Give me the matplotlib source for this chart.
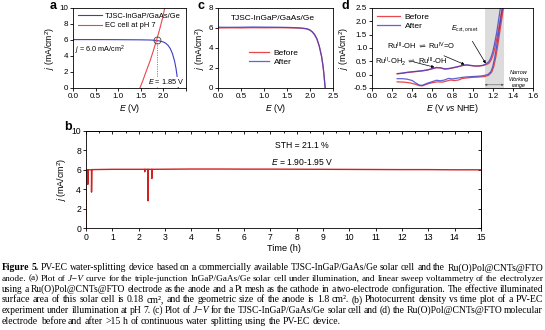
import matplotlib
matplotlib.use('Agg')
import matplotlib.pyplot as plt

plt.rcParams['font.family'] = ['Liberation Sans', 'DejaVu Sans']
plt.rcParams['mathtext.fontset'] = 'custom'
plt.rcParams['mathtext.rm'] = 'Liberation Sans'
plt.rcParams['mathtext.it'] = 'Liberation Sans:italic'
plt.rcParams['mathtext.bf'] = 'Liberation Sans:bold'
plt.rcParams['font.size'] = 5.8
plt.rcParams['axes.linewidth'] = 0.6

RED = '#e8474c'
BLUE = '#3c3cc8'
BRED = '#d31f1f'

# (a) J-V of solar cell and LSV of electrolyzer
pv_E = [0, 0.5, 1.0, 1.5, 1.7, 1.8, 1.9, 2.0, 2.05, 2.1, 2.15, 2.2, 2.25, 2.28, 2.3, 2.32, 2.33]
pv_j = [6.05, 6.05, 6.04, 6.02, 6.0, 5.97, 5.9, 5.75, 5.6, 5.35, 4.95, 4.3, 3.3, 2.4, 1.6, 0.6, 0]
ec_E = [1.48, 1.55, 1.62, 1.70, 1.78, 1.85, 1.92, 1.98, 2.04]
ec_j = [0, 1.0, 2.1, 3.3, 4.7, 6.0, 7.4, 8.7, 10.3]
op_E, op_j = 1.85, 6.0

# (b) current density vs time
b_t = [0.0, 0.0, 0.04, 0.07, 0.07, 0.08, 0.21, 0.21, 0.22, 1.0, 2.0, 2.23, 2.23, 2.24,
       2.35, 2.35, 2.36, 2.5, 2.5, 2.51, 3, 4, 5, 6, 7, 8, 9, 10, 11, 12, 13, 14, 15]
b_j = [0.0, 5.9, 6.0, 6.0, 4.5, 6.0, 6.0, 3.7, 6.02, 6.05, 6.05, 6.05, 5.8, 6.05,
       6.05, 2.8, 6.05, 6.05, 5.1, 6.05, 6.06, 6.08, 6.08, 6.07, 6.07, 6.06, 6.05,
       6.04, 6.03, 6.02, 6.02, 6.0, 6.0]

# (c) J-V before / after
c_E = [0, 0.25, 0.5, 0.75, 1.0, 1.25, 1.5, 1.7, 1.8, 1.9, 1.95, 2.0, 2.05, 2.1, 2.15,
       2.2, 2.25, 2.28, 2.3, 2.32, 2.33]
c_before = [6.0, 6.02, 6.01, 6.03, 6.02, 6.03, 6.02, 6.0, 5.98, 5.93, 5.88, 5.78, 5.6,
            5.32, 4.9, 4.2, 3.2, 2.3, 1.5, 0.5, 0]
c_after = [6.08, 6.07, 6.08, 6.1, 6.09, 6.08, 6.06, 6.03, 6.0, 5.95, 5.9, 5.8, 5.62,
           5.35, 4.92, 4.22, 3.2, 2.3, 1.5, 0.5, 0]

# (d) CV of molecular electrode, forward + reverse scan
d_before_E = [0.25, 0.30, 0.35, 0.40, 0.45, 0.50, 0.55, 0.60, 0.64, 0.68, 0.72, 0.76, 0.80,
              0.85, 0.90, 0.94, 0.98, 1.02, 1.06, 1.10, 1.13, 1.16, 1.18, 1.20, 1.22, 1.24,
              1.26, 1.28, 1.30,
              1.31, 1.29, 1.27, 1.25, 1.23, 1.21, 1.19, 1.16, 1.12, 1.06, 1.0, 0.95, 0.9,
              0.86, 0.82, 0.78, 0.74, 0.7, 0.65, 0.6, 0.55, 0.5, 0.47, 0.43, 0.38, 0.32, 0.25]
d_before_j = [0.03, 0.05, 0.08, 0.10, 0.12, 0.14, 0.17, 0.22, 0.26, 0.25, 0.21, 0.22, 0.25,
              0.29, 0.34, 0.36, 0.34, 0.32, 0.32, 0.34, 0.37, 0.42, 0.52, 0.7, 0.98, 1.35,
              1.75, 2.2, 2.6,
              2.6, 2.1, 1.6, 1.1, 0.65, 0.3, 0.1, -0.02, -0.07, -0.09, -0.1, -0.12, -0.14,
              -0.2, -0.22, -0.2, -0.24, -0.28, -0.27, -0.3, -0.35, -0.42, -0.41, -0.36, -0.31,
              -0.28, -0.27]
d_after_E = [0.25, 0.30, 0.35, 0.40, 0.45, 0.50, 0.55, 0.60, 0.64, 0.68, 0.72, 0.76, 0.80,
             0.85, 0.90, 0.94, 0.98, 1.02, 1.06, 1.10, 1.13, 1.16, 1.18, 1.20, 1.22, 1.24,
             1.26, 1.28,
             1.30, 1.28, 1.26, 1.24, 1.22, 1.20, 1.18, 1.15, 1.1, 1.05, 1.0, 0.95, 0.9,
             0.85, 0.8, 0.76, 0.72, 0.68, 0.64, 0.6, 0.55, 0.5, 0.47, 0.43, 0.4, 0.35, 0.3, 0.25]
d_after_j = [0.04, 0.06, 0.09, 0.11, 0.13, 0.15, 0.18, 0.23, 0.27, 0.26, 0.22, 0.23, 0.26,
             0.30, 0.35, 0.37, 0.35, 0.33, 0.33, 0.35, 0.40, 0.48, 0.62, 0.85, 1.2, 1.6,
             2.1, 2.6,
             2.6, 2.1, 1.6, 1.1, 0.65, 0.3, 0.1, 0.0, -0.04, -0.06, -0.07, -0.08, -0.1,
             -0.13, -0.16, -0.14, -0.2, -0.23, -0.21, -0.26, -0.32, -0.4, -0.39, -0.3, -0.22,
             -0.17, -0.15, -0.15]
band = (1.12, 1.31)

caption = [
    [("Figure 5.", 'bold'), (" PV-EC water-splitting device based on a commercially available TJSC-InGaP/GaAs/Ge solar cell and the Ru(O)Pol@CNTs@FTO", 'normal')],
    [("anode. (a) Plot of ", 'normal'), ("J\u2212V", 'italic'), (" curve for the triple-junction InGaP/GaAs/Ge solar cell under illumination, and linear sweep voltammetry of the electrolyzer", 'normal')],
    [("using a Ru(O)Pol@CNTs@FTO electrode as the anode and a Pt mesh as the cathode in a two-electrode configuration. The effective illuminated", 'normal')],
    [("surface area of this solar cell is 0.18 cm\u00b2, and the geometric size of the anode is 1.8 cm\u00b2. (b) Photocurrent density vs time plot of a PV-EC", 'normal')],
    [("experiment under illumination at pH 7. (c) Plot of ", 'normal'), ("J\u2212V", 'italic'), (" for the TJSC-InGaP/GaAs/Ge solar cell and (d) the Ru(O)Pol@CNTs@FTO molecular", 'normal')],
    [("electrode before and after >15 h of continuous water splitting using the PV-EC device.", 'normal')],
]

fig = plt.figure(figsize=(5.45, 3.30), dpi=100)
W, H = 545.0, 330.0


def add_ax(l, t, r, b):
    return fig.add_axes([l / W, 1 - b / H, (r - l) / W, (b - t) / H])


def style(ax):
    ax.tick_params(direction='out', length=2, width=0.6, pad=1.5, labelsize=5.8)


ax_a = add_ax(73, 8, 186, 88)
ax_c = add_ax(218, 8, 333, 88)
ax_d = add_ax(372, 8, 533, 88)
ax_b = add_ax(86, 131, 481, 228)

# ---- a
ax_a.plot(pv_E, pv_j, color=BLUE, lw=0.8, label='TJSC-InGaP/GaAs/Ge')
ax_a.plot(ec_E, ec_j, color=RED, lw=0.8, label='EC cell at pH 7')
ax_a.vlines(op_E, 0, op_j, color='#888888', lw=0.7, linestyles=(0, (1.2, 1.2)))
ax_a.plot([op_E], [op_j], 'o', mfc='none', mec='#444444', mew=0.6, ms=5)
ax_a.text(0.04, 5.5, '$j$ = 6.0 mA/cm$^2$', va='top', fontsize=5.2)
ax_a.text(1.67, 0.75, '$E$ = 1.85 V', va='center', fontsize=5.2,
          bbox=dict(fc='white', ec='none', pad=0.3))
ax_a.set_xlim(0, 2.5)
ax_a.set_ylim(0, 10)
ax_a.set_xticks([0, 0.5, 1.0, 1.5, 2.0, 2.5])
ax_a.set_xticklabels(['0.0', '0.5', '1.0', '1.5', '2.0', ''])
ax_a.set_yticks([0, 2, 4, 6, 8, 10])
ax_a.set_xlabel('$E$ (V)', labelpad=1.5, fontsize=6.2)
ax_a.set_ylabel('$j$ (mA/cm$^2$)', labelpad=1.5, fontsize=6.2)
ax_a.legend(loc='upper left', frameon=False, fontsize=5.4, handlelength=3.2,
            borderaxespad=0.2, labelspacing=0.3, handletextpad=0.5)
style(ax_a)

# ---- c
ax_c.plot(c_E, c_before, color=RED, lw=0.9, label='Before')
ax_c.plot(c_E, c_after, color=BLUE, lw=0.9, alpha=0.8, label='After')
ax_c.text(1.2, 6.9, 'TJSC-InGaP/GaAs/Ge', ha='center', va='center', fontsize=6)
ax_c.set_xlim(0, 2.5)
ax_c.set_ylim(0, 8)
ax_c.set_xticks([0, 0.5, 1.0, 1.5, 2.0, 2.5])
ax_c.set_xticklabels(['0.0', '0.5', '1.0', '1.5', '2.0', '2.5'])
ax_c.set_yticks([0, 2, 4, 6, 8])
ax_c.set_xlabel('$E$ (V)', labelpad=1.5, fontsize=6.2)
ax_c.set_ylabel('$j$ (mA/cm$^2$)', labelpad=1.5, fontsize=6.2)
ax_c.legend(loc='center left', bbox_to_anchor=(0.2, 0.38), frameon=False, fontsize=6,
            handlelength=2.5, labelspacing=0.2, handletextpad=0.5)
style(ax_c)

# ---- d
ax_d.axvspan(band[0], band[1], color='#dcdcdc', lw=0, zorder=0)
ax_d.plot(d_before_E, d_before_j, color=RED, lw=0.9, label='Before')
ax_d.plot(d_after_E, d_after_j, color=BLUE, lw=0.9, alpha=0.8, label='After')
ax_d.annotate('$E_\\mathrm{cat,onset}$', xy=(1.13, 0.42), xytext=(0.92, 1.74),
              fontsize=5, ha='center', va='center',
              arrowprops=dict(arrowstyle='-|>', color='black', lw=0.5,
                              mutation_scale=4, shrinkA=4, shrinkB=0))
ax_d.annotate('Ru$^{\\mathrm{III}}$-OH $\\rightleftharpoons$ Ru$^{\\mathrm{IV}}$=O',
              xy=(0.92, 0.38), xytext=(0.49, 1.07),
              fontsize=5.4, ha='center', va='center',
              arrowprops=dict(arrowstyle='-|>', color='black', lw=0.5,
                              mutation_scale=4, shrinkA=3, shrinkB=0))
ax_d.annotate('Ru$^{\\mathrm{II}}$-OH$_2$ $\\rightleftharpoons$ Ru$^{\\mathrm{III}}$-OH',
              xy=(0.62, 0.28), xytext=(0.39, 0.5),
              fontsize=5.4, ha='center', va='center',
              arrowprops=dict(arrowstyle='-|>', color='black', lw=0.5,
                              mutation_scale=4, shrinkA=2, shrinkB=0))
ax_d.annotate('', xy=(band[0], -0.38), xytext=(band[1], -0.38),
              arrowprops=dict(arrowstyle='<|-|>', color='#555555', lw=0.4,
                              mutation_scale=3, shrinkA=0, shrinkB=0))
ax_d.text(1.46, -0.17, 'Narrow\nWorking\nrange', fontsize=4, style='italic',
          ha='center', va='center', linespacing=1.3)
ax_d.set_xlim(0, 1.6)
ax_d.set_ylim(-0.5, 2.5)
ax_d.set_xticks([0, 0.2, 0.4, 0.6, 0.8, 1.0, 1.2, 1.4, 1.6])
ax_d.set_xticklabels(['0.0', '0.2', '0.4', '0.6', '0.8', '1.0', '1.2', '1.4', '1.6'])
ax_d.set_yticks([-0.5, 0, 0.5, 1.0, 1.5, 2.0, 2.5])
ax_d.set_yticklabels(['-0.5', '0.0', '0.5', '1.0', '1.5', '2.0', '2.5'])
ax_d.set_xlabel('$E$ (V $vs$ NHE)', labelpad=1.5, fontsize=6.2)
ax_d.set_ylabel('$j$ (mA/cm$^2$)', labelpad=1.5, fontsize=6.2)
ax_d.legend(loc='upper left', frameon=False, fontsize=6, handlelength=2.8,
            borderaxespad=0.2, labelspacing=0.2, handletextpad=0.5)
style(ax_d)

# ---- b
ax_b.plot(b_t, b_j, color=BRED, lw=1.0)
ax_b.text(8.2, 8.5, 'STH = 21.1 %', ha='center', va='center', fontsize=6.2)
ax_b.text(8.2, 6.8, '$E$ = 1.90-1.95 V', ha='center', va='center', fontsize=6.2)
ax_b.set_xlim(0, 15)
ax_b.set_ylim(0, 10)
ax_b.set_xticks(range(0, 16))
ax_b.set_yticks([0, 2, 4, 6, 8, 10])
ax_b.set_xlabel('Time (h)', labelpad=1.5, fontsize=6.6)
ax_b.set_ylabel('$j$ (mA/cm$^2$)', labelpad=1.5, fontsize=6.4)
style(ax_b)
ax_b.tick_params(labelsize=6.2)
top = ax_b.secondary_xaxis('top')
top.set_xticks(range(0, 16))
top.set_xticks([i + 0.5 for i in range(15)], minor=True)
top.tick_params(which='both', direction='in', length=2, width=0.6, labeltop=False)
top.tick_params(which='minor', length=1.3)
right = ax_b.secondary_yaxis('right')
right.set_yticks([0, 2, 4, 6, 8, 10])
right.tick_params(direction='in', length=2, width=0.6, labelright=False)

# panel letters
for lbl, x, y in [('a', 50, 6), ('c', 198, 6), ('d', 341, 6), ('b', 64, 127)]:
    fig.text(x / W, 1 - y / H, lbl, fontsize=9, fontweight='bold', va='center', ha='left')

# caption, justified line by line
renderer = fig.canvas.get_renderer()
cap_fs = 7.0
cap_l, cap_r = 2.0, 543.0
min_gap = 1.8
y0 = 268
for i, parts in enumerate(caption):
    y = 1 - (y0 + i * 10.6) / H
    words = []
    for txt, kind in parts:
        for w in txt.split():
            words.append((w, kind))
    texts = []
    for w, kind in words:
        texts.append(fig.text(0, y, w, fontsize=cap_fs, va='center', ha='left',
                              family=['Liberation Serif', 'DejaVu Serif'],
                              fontweight='bold' if kind == 'bold' else 'normal',
                              style='italic' if kind == 'italic' else 'normal'))
    widths = [t.get_window_extent(renderer=renderer).width for t in texts]
    avail = cap_r - cap_l
    natural = sum(widths) + (len(words) - 1) * min_gap
    if natural > avail:
        shrink = avail / natural
        for t in texts:
            t.set_fontsize(cap_fs * shrink)
        widths = [t.get_window_extent(renderer=renderer).width for t in texts]
    if i == len(caption) - 1:
        gap = cap_fs * 100 / 72 * 0.25
    else:
        gap = (avail - sum(widths)) / (len(words) - 1)
    x = cap_l
    for t, w in zip(texts, widths):
        t.set_x(x / W)
        x += w + gap

fig.savefig('out.png', dpi=100)
